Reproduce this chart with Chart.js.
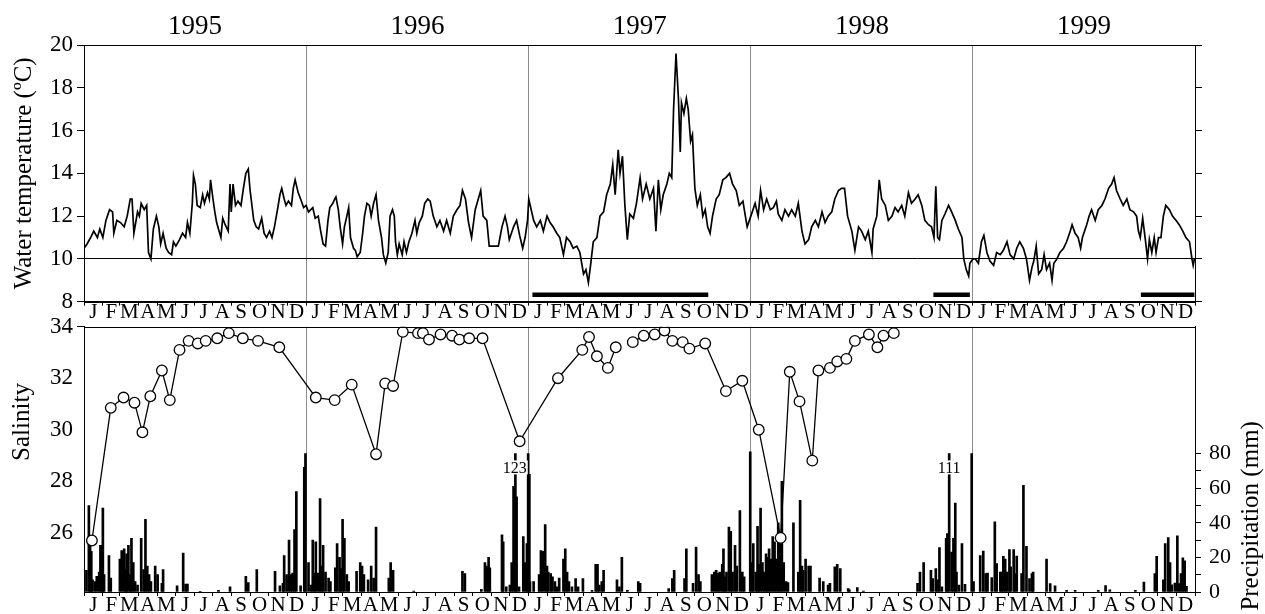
<!DOCTYPE html>
<html lang="en">
<head>
<meta charset="UTF-8">
<title>Water temperature, salinity and precipitation 1995-1999</title>
<script src="https://cdn.jsdelivr.net/npm/chart.js"></script>
<style>
  body { margin: 0; background: #fff; }
  #wrap { position: relative; width: 1265px; height: 614px; overflow: hidden; }
  .panel { position: absolute; left: 0; width: 1265px; }
  #top { top: 0; height: 326px; }
  #bottom { top: 316px; height: 298px; }
</style>
</head>
<body>
<div id="wrap">
  <div class="panel" id="top"><canvas id="tempChart"></canvas></div>
  <div class="panel" id="bottom"><canvas id="salChart"></canvas></div>
</div>
<script>
// ---- data (x = days since 1 Jan 1995) ----
const years = [1995, 1996, 1997, 1998, 1999];
const monthLetters = ['J', 'F', 'M', 'A', 'M', 'J', 'J', 'A', 'S', 'O', 'N', 'D'];
const tempTicks = [8, 10, 12, 14, 16, 18, 20];
const salTicks = [26, 28, 30, 32, 34];
const precipTicks = [0, 10, 20, 30, 40, 50, 60, 70, 80];

// water temperature [day, degC]
const tempReadings = [
  [0,10.5],[5,10.7],[11,11.0],[16,11.3],[22,11.0],[26,11.4],[31,11.0],[36,11.8],[42,12.3],[47,12.2],[49,11.2],[54,11.8],[60,11.7],[66,11.5],[71,12.0],[76,12.8],[79,12.8],[82,11.2],[88,12.2],[91,12.0],[94,12.6],[99,12.3],[103,12.5],[106,10.3],[110,10.0],[114,11.4],[119,12.0],[123,11.5],[126,10.7],[130,11.2],[135,10.5],[139,10.3],[144,10.2],[147,10.8],[151,10.6],[157,10.9],[162,11.2],[167,11.0],[170,11.7],[174,11.2],[178,12.6],[180,13.9],[183,13.5],[186,12.5],[191,12.4],[195,13.0],[198,12.6],[203,13.1],[206,12.8],[208,13.7],[212,12.8],[215,12.2],[218,11.7],[221,11.4],[225,11.0],[228,11.9],[232,11.6],[237,11.3],[240,13.5],[242,12.2],[245,13.5],[249,12.5],[253,12.7],[258,12.5],[262,13.3],[266,14.0],[270,14.2],[273,13.2],[276,12.5],[279,11.8],[283,11.5],[287,11.4],[292,11.9],[296,11.2],[300,11.0],[305,11.3],[309,11.0],[313,11.5],[318,12.3],[322,13.0],[325,13.3],[329,12.8],[332,12.5],[336,12.7],[341,12.5],[344,13.3],[347,13.7],[352,13.1],[356,12.8],[361,12.4],
  [365,12.5],[369,12.2],[376,12.4],[380,11.9],[385,12.0],[389,11.3],[393,10.7],[397,10.6],[401,11.8],[404,12.4],[409,12.6],[412,12.8],[414,12.9],[418,12.3],[421,11.5],[425,10.7],[428,11.5],[432,12.0],[435,12.4],[438,11.0],[443,10.5],[446,10.4],[449,10.1],[454,10.3],[458,11.2],[461,12.0],[465,12.6],[469,12.5],[472,12.0],[476,12.6],[480,13.0],[484,11.8],[489,11.0],[492,10.2],[496,9.8],[500,10.3],[503,12.0],[507,12.3],[510,12.0],[512,10.8],[515,10.2],[518,10.7],[523,10.2],[526,10.8],[530,10.3],[534,10.8],[539,11.2],[544,11.8],[547,11.2],[551,11.7],[556,12.0],[560,12.6],[565,12.8],[569,12.7],[574,12.0],[580,11.5],[585,11.8],[591,11.3],[596,11.8],[602,11.2],[607,12.0],[613,12.3],[618,12.5],[622,13.2],[627,12.8],[632,11.7],[637,11.0],[643,12.3],[648,12.8],[652,13.2],[656,12.0],[662,11.8],[666,10.6],[670,10.6],[676,10.6],[681,10.6],[687,11.5],[692,12.0],[696,11.5],[699,10.9],[706,11.5],[711,11.8],[716,11.1],[721,10.5],[725,11.0],[729,11.8],
  [731,12.8],[739,11.8],[744,11.5],[750,11.8],[755,11.3],[761,12.0],[766,11.7],[771,11.5],[777,11.2],[782,11.0],[788,10.2],[793,11.0],[799,10.8],[804,10.5],[810,10.6],[815,10.3],[821,9.3],[825,9.5],[829,8.9],[833,9.8],[837,10.8],[843,11.0],[848,12.0],[854,12.2],[859,13.0],[865,13.5],[869,14.4],[873,13.0],[878,15.1],[881,14.0],[885,14.8],[889,12.5],[893,10.9],[897,12.1],[903,11.9],[908,12.6],[914,13.8],[918,12.8],[924,13.5],[930,12.8],[936,13.3],[940,11.3],[944,13.7],[948,12.3],[952,13.0],[958,13.5],[962,14.0],[966,13.8],[969,17.0],[973,19.6],[977,17.5],[980,15.0],[982,17.3],[986,16.8],[990,17.5],[993,17.0],[997,15.5],[1000,15.8],[1004,13.3],[1008,12.5],[1013,13.0],[1017,12.0],[1021,12.3],[1025,11.5],[1029,11.2],[1033,12.0],[1039,12.8],[1044,13.0],[1050,13.7],[1055,13.8],[1061,14.0],[1066,13.5],[1072,13.2],[1077,12.5],[1083,12.7],[1087,12.0],[1090,11.5],
  [1096,12.0],[1103,12.6],[1108,12.0],[1112,13.2],[1117,12.3],[1122,12.8],[1128,12.3],[1133,12.4],[1138,12.7],[1141,12.1],[1147,11.8],[1152,12.3],[1158,12.0],[1163,12.3],[1169,12.0],[1174,12.6],[1180,11.3],[1185,10.7],[1191,10.9],[1196,11.5],[1202,11.8],[1207,11.5],[1213,12.2],[1218,11.7],[1223,12.0],[1229,12.2],[1234,12.8],[1240,13.2],[1245,13.3],[1250,13.3],[1255,12.0],[1262,11.3],[1267,10.4],[1273,11.5],[1278,11.3],[1284,10.9],[1289,11.3],[1295,10.3],[1297,11.4],[1303,12.0],[1307,13.7],[1311,12.8],[1317,12.5],[1322,11.8],[1328,12.0],[1333,12.4],[1338,12.2],[1344,12.5],[1349,12.0],[1355,13.1],[1360,12.6],[1366,12.8],[1371,13.0],[1377,12.5],[1382,11.8],[1388,11.6],[1393,11.5],[1397,11.0],[1400,13.4],[1403,11.0],[1406,10.9],[1410,11.8],[1415,12.1],[1421,12.5],[1426,12.2],[1432,11.8],[1437,11.4],[1443,11.0],[1446,10.0],[1450,9.5],[1454,9.2],[1456,9.8],
  [1461,10.0],[1465,10.0],[1470,9.8],[1475,10.8],[1479,11.1],[1484,10.3],[1489,9.9],[1495,9.7],[1500,10.3],[1506,10.2],[1511,10.4],[1517,10.8],[1522,10.2],[1528,10.0],[1533,10.5],[1538,10.8],[1544,10.5],[1549,10.0],[1554,9.0],[1558,9.6],[1561,9.9],[1565,10.6],[1569,9.3],[1574,9.5],[1578,10.2],[1582,9.5],[1587,9.8],[1591,9.0],[1594,9.8],[1599,10.0],[1604,10.3],[1610,10.5],[1615,10.8],[1621,11.3],[1624,11.6],[1629,11.2],[1634,11.0],[1638,10.5],[1641,11.0],[1648,11.6],[1652,12.0],[1656,12.3],[1662,11.8],[1667,12.3],[1673,12.5],[1678,12.8],[1684,13.3],[1689,13.5],[1693,13.8],[1697,13.2],[1703,12.8],[1708,12.5],[1714,12.8],[1719,12.3],[1725,12.2],[1730,12.0],[1733,11.3],[1736,11.0],[1740,11.9],[1744,11.0],[1748,10.0],[1751,10.9],[1755,10.3],[1759,11.0],[1762,10.3],[1766,11.0],[1770,11.0],[1774,12.0],[1778,12.5],[1784,12.3],[1789,12.0],[1795,11.8],[1800,11.6],[1806,11.3],[1811,11.0],[1817,10.8],[1821,10.0],[1823,9.7],[1825,10.0]
];

// periods marked by the thick bar under the temperature curve [startDay, endDay]
const markedPeriods = [[737, 1026], [1396, 1456], [1737, 1825]];

// salinity [day, value]; null = break in the series
const salinityReadings = [
  [13,25.7],[44,30.85],[65,31.25],[83,31.05],[96,29.9],[109,31.3],[128,32.3],[141,31.15],[157,33.1],[172,33.45],[187,33.35],[200,33.45],[219,33.55],[238,33.75],[261,33.55],[286,33.45],[321,33.2],
  [381,31.25],[412,31.15],[440,31.75],[480,29.05],[495,31.8],[508,31.7],[524,33.8],[549,33.75],[557,33.75],[567,33.5],[586,33.7],[605,33.65],[617,33.5],[633,33.55],[655,33.55],[716,29.55],
  [779,32.0],[819,33.1],[830,33.6],[843,32.85],[861,32.4],[874,33.2],[888,null],[902,33.4],[920,33.65],[938,33.7],[954,33.85],[967,33.45],[984,33.4],[995,33.15],[1021,33.35],[1055,31.5],[1082,31.9],
  [1109,30.0],[1145,25.8],[1160,32.25],[1176,31.1],[1197,28.8],[1207,32.3],[1226,32.4],[1238,32.65],[1253,32.75],[1267,33.45],[1290,33.7],[1304,33.2],[1314,33.65],[1331,33.75]
];

// daily precipitation [day, mm]
const precipReadings = [
  [4,12.5],[8,50],[10,31],[12,23.5],[14,7],[18,6],[21,9],[25,11.5],[27,27],[30,27],[31,48.5],[33,10],[41,21],[44,8],[59,19],[62,24],[66,25],[68,13],[70,22],[73,27],[76,10],[78,31],[81,17],[84,6],[88,4],[94,31],[98,13],[101,42],[104,15],[107,10],[110,6],[117,15],[121,10],[128,5],[130,13],[153,3.5],[163,22.5],[167,4.6],[170,4.6],[191,0.4],[221,1],[240,3],[266,9],[270,5.4],[284,13],[314,12],[322,3.5],[327,5],[329,21],[333,10],[337,30],[340,10],[343,11],[346,36],[349,58],[356,3.5],[362,72],[364,80],
  [369,17],[373,4],[376,30],[379,11],[381,29],[385,11],[388,54],[391,15],[393,27],[397,11.5],[402,8],[405,6],[413,14],[416,28],[420,20],[422,13.5],[425,42],[428,31],[432,10],[435,6],[448,12],[454,17],[457,15],[460,10],[467,7],[472,15],[476,8],[480,37.5],[501,8],[504,17],[508,12.5],[542,0.5],[622,12],[626,10.6],[653,1.5],[659,17],[662,15],[665,20],[667,14],[687,33],[689,29],[694,3],[700,4],[703,17],[706,61],[709,80],[711,55],[715,3],[722,32],[725,17],[728,28],[730,80],
  [732,68],[733,6],[739,6],[748,10],[751,24],[754,23.5],[758,39],[761,15],[763,11.5],[767,10.6],[770,8.7],[774,6],[777,3],[781,8],[788,19],[791,25],[794,11.5],[797,6],[802,3],[808,7.7],[812,3],[820,7.7],[835,1],[841,16],[844,16],[847,4],[851,6],[854,12.5],[876,7],[880,3],[884,20],[893,1],[911,6],[914,5],[961,2],[967,7.7],[970,12.5],[987,7.7],[990,25],[1001,5],[1006,26],[1010,10],[1013,6],[1032,10],[1036,11.5],[1039,12.5],[1042,11],[1045,11.5],[1049,16],[1051,25],[1054,8.7],[1056,11.5],[1060,37.5],[1063,35],[1066,11.5],[1070,27],[1073,15],[1078,47],[1082,11.5],[1085,8.7],[1095,81],
  [1098,17],[1100,28],[1104,11.5],[1107,38],[1109,16],[1112,48.5],[1115,17],[1118,11.5],[1121,22],[1123,20],[1126,25],[1129,19],[1132,32],[1135,29],[1138,19],[1141,40],[1144,29],[1147,64],[1150,17],[1154,6],[1157,5.4],[1166,40],[1174,11.5],[1177,53],[1180,15],[1182,12.5],[1186,19],[1191,15],[1194,15],[1209,8],[1215,6],[1223,4],[1226,5],[1234,14.5],[1238,16],[1243,13.5],[1256,2],[1258,1.3],[1271,2.5],[1281,0.5],[1370,5],[1374,11.5],[1380,17],[1392,12.5],[1395,7.7],[1400,13.5],[1403,7],[1406,25.6],[1410,3],[1417,31],[1419,33.7],[1422,80],[1426,23],[1429,31],[1432,51.4],[1434,11.5],[1438,4],[1443,28],[1448,4.4],[1459,80],[1462,6],
  [1473,21],[1478,23.7],[1482,10.6],[1485,11],[1492,8.3],[1497,40.5],[1500,16.4],[1506,11.5],[1508,11.5],[1511,20.6],[1514,19],[1517,11.5],[1521,24.5],[1523,14.5],[1528,24.5],[1530,10.6],[1533,20.8],[1541,10.6],[1544,61.7],[1549,26.4],[1554,7.7],[1558,10.6],[1560,11.5],[1582,19],[1588,4.8],[1596,3.5],[1615,1],[1629,1],[1667,1],[1679,3.7],[1686,1.3],[1728,1],[1742,5.8],[1760,10.6],[1763,20.6],[1774,7],[1777,28],[1782,31.4],[1785,17],[1788,4.2],[1793,5.2],[1797,32.4],[1800,4.8],[1803,10.6],[1806,19.8],[1809,18],[1812,3.3]
];

// notes printed over the tallest (clipped) rain bars
const precipNotes = [[708, '123'], [1422, '111']];

// ---- calendar helpers ----
const DAY0 = Date.UTC(1995, 0, 1);
const dayOf = (y, m, d) => (Date.UTC(y, m, d) - DAY0) / 86400000;
const lastDay = dayOf(years[years.length - 1] + 1, 0, 1);

const monthEdges = [];
const monthLabel = new Map();
years.forEach(y => {
  for (let m = 0; m < 12; m++) {
    const a = dayOf(y, m, 1), b = dayOf(y, m + 1, 1);
    monthEdges.push(a);
    monthLabel.set((a + b) / 2, monthLetters[m]);
  }
});
monthEdges.push(lastDay);
const monthTickValues = monthEdges.concat([...monthLabel.keys()]).sort((a, b) => a - b);
const edgeSet = new Set(monthEdges);
const yearLineSet = new Set(years.slice(1).map(y => dayOf(y, 0, 1)));
const yearMid = new Map(years.map(y => [(dayOf(y, 0, 1) + dayOf(y + 1, 0, 1)) / 2, String(y)]));

// ---- styling ----
const SERIF = '"Liberation Serif", "DejaVu Serif", "Times New Roman", serif';
Chart.defaults.font.family = SERIF;
Chart.defaults.color = '#000';
const CLEAR = 'rgba(0,0,0,0)';

// keep the plot area exactly where the axes put it (no room kept for label overhang)
const noOverhang = s => { s.paddingTop = 0; s.paddingBottom = 0; s.paddingLeft = 0; s.paddingRight = 0; };

function monthAxis(height, pad) {
  return {
    type: 'linear', position: 'bottom', min: 0, max: lastDay, offset: false,
    afterBuildTicks: s => { s.ticks = monthTickValues.map(v => ({ value: v })); },
    afterFit: s => { s.height = height; noOverhang(s); },
    ticks: {
      autoSkip: false, maxRotation: 0, minRotation: 0, padding: pad,
      font: { size: 21, lineHeight: 1 },
      callback: v => monthLabel.get(v) || ''
    },
    grid: {
      offset: false, drawOnChartArea: true, tickLength: 4,
      color: c => (c.tick && yearLineSet.has(c.tick.value)) ? '#8c8c8c' : CLEAR,
      tickColor: c => (c.tick && edgeSet.has(c.tick.value)) ? '#000' : CLEAR
    },
    border: { color: '#000', width: 1 }
  };
}

// box round the plot area
const framePlugin = {
  id: 'frame',
  afterDraw(chart) {
    const { ctx, chartArea: a } = chart;
    ctx.save();
    ctx.strokeStyle = '#000';
    ctx.lineWidth = 1;
    ctx.strokeRect(Math.round(a.left) + 0.5, Math.round(a.top) + 0.5,
      Math.round(a.right - a.left), Math.round(a.bottom - a.top));
    ctx.restore();
  }
};

// vertical axis titles placed against a scale value
const sideTitles = {
  id: 'sideTitles',
  afterDraw(chart, args, opts) {
    const { ctx } = chart;
    opts.items.forEach(t => {
      const y = chart.scales[t.scale].getPixelForValue(t.at);
      ctx.save();
      ctx.translate(t.x, y);
      ctx.rotate(-Math.PI / 2);
      ctx.font = '25px ' + SERIF;
      ctx.fillStyle = '#000';
      ctx.textAlign = 'center';
      ctx.textBaseline = 'middle';
      ctx.fillText(t.text, 0, 0);
      ctx.restore();
    });
  }
};

const notesPlugin = {
  id: 'notes',
  afterDatasetsDraw(chart) {
    const { ctx } = chart;
    const x = chart.scales.x, yP = chart.scales.yP;
    ctx.save();
    ctx.font = '16px ' + SERIF;
    ctx.textAlign = 'center';
    ctx.textBaseline = 'middle';
    precipNotes.forEach(([day, txt]) => {
      const px = x.getPixelForValue(day), py = yP.getPixelForValue(72);
      const w = ctx.measureText(txt).width + 2;
      ctx.fillStyle = '#fff';
      ctx.fillRect(px - w / 2, py - 7, w, 14);
      ctx.fillStyle = '#000';
      ctx.fillText(txt, px, py + 1);
    });
    ctx.restore();
  }
};

// ---- temperature panel ----
const periodPoints = [];
markedPeriods.forEach(([a, b]) => {
  periodPoints.push({ x: a, y: 8.33 }, { x: b, y: 8.33 }, { x: b, y: null });
});

new Chart(document.getElementById('tempChart'), {
  type: 'line',
  data: {
    datasets: [
      {
        data: tempReadings.map(([d, v]) => ({ x: d, y: v })),
        borderColor: '#000', borderWidth: 1.7, pointRadius: 0, tension: 0
      },
      {
        data: periodPoints,
        borderColor: '#000', borderWidth: 4.5, pointRadius: 0, spanGaps: false,
        borderCapStyle: 'butt'
      }
    ]
  },
  options: {
    responsive: true, maintainAspectRatio: false, animation: false,
    layout: { padding: 0 },
    plugins: {
      legend: { display: false }, tooltip: { enabled: false },
      sideTitles: { items: [{ scale: 'y', at: 14, x: 24, text: 'Water temperature (ºC)' }] }
    },
    scales: {
      x: monthAxis(24.3, -3.5),
      xYear: {
        type: 'linear', position: 'top', min: 0, max: lastDay,
        afterBuildTicks: s => { s.ticks = [...yearMid.keys()].map(v => ({ value: v })); },
        afterFit: s => { s.height = 45; noOverhang(s); },
        ticks: { autoSkip: false, maxRotation: 0, padding: 2, font: { size: 27, lineHeight: 1.2 },
          callback: v => yearMid.get(v) || '' },
        grid: { display: false, drawTicks: false },
        border: { display: false }
      },
      y: {
        position: 'left', min: 8, max: 20,
        afterBuildTicks: s => { s.ticks = tempTicks.map(v => ({ value: v })); },
        afterFit: s => { s.width = 84; noOverhang(s); },
        ticks: { padding: 4, font: { size: 23 } },
        grid: {
          tickLength: 7, tickColor: '#000',
          color: c => (c.tick && c.tick.value === 10) ? '#000' : CLEAR
        },
        border: { color: '#000' }
      },
      yR: {
        position: 'right', min: 8, max: 20,
        afterBuildTicks: s => { s.ticks = tempTicks.map(v => ({ value: v })); },
        afterFit: s => { s.width = 70; noOverhang(s); },
        ticks: { callback: () => '' },
        grid: { drawOnChartArea: false, tickLength: 7, tickColor: '#000' },
        border: { color: '#000' }
      }
    }
  },
  plugins: [framePlugin, sideTitles]
});

// ---- salinity / precipitation panel ----
new Chart(document.getElementById('salChart'), {
  type: 'line',
  data: {
    datasets: [
      {
        type: 'line', yAxisID: 'yS', order: 0,
        data: salinityReadings.map(([d, v]) => ({ x: d, y: v })),
        borderColor: '#000', borderWidth: 1.3, tension: 0, spanGaps: false,
        pointRadius: 5.3, pointBorderWidth: 1.3,
        pointBackgroundColor: '#fff', pointBorderColor: '#000'
      },
      {
        type: 'bar', yAxisID: 'yP', order: 1,
        data: precipReadings.map(([d, v]) => ({ x: d, y: v })),
        backgroundColor: '#000', barThickness: 2, borderWidth: 0
      }
    ]
  },
  options: {
    responsive: true, maintainAspectRatio: false, animation: false,
    layout: { padding: { top: 10.7, left: 0, right: 0, bottom: 0 } },
    plugins: {
      legend: { display: false }, tooltip: { enabled: false },
      sideTitles: { items: [
        { scale: 'yS', at: 30.3, x: 22, text: 'Salinity' },
        { scale: 'yP', at: 44, x: 1251, text: 'Precipitation (mm)' }
      ] }
    },
    scales: {
      x: monthAxis(22, -1.5),
      yS: {
        position: 'left', min: 23.7, max: 34,
        afterBuildTicks: s => { s.ticks = salTicks.map(v => ({ value: v })); },
        afterFit: s => { s.width = 84; noOverhang(s); },
        ticks: { padding: 4, font: { size: 23 } },
        grid: {
          drawOnChartArea: false, tickLength: 7,
          tickColor: c => (c.tick && c.tick.value === 34) ? '#000' : CLEAR
        },
        border: { color: '#000' }
      },
      yP: {
        position: 'right', min: 0, max: 153.3,
        afterBuildTicks: s => { s.ticks = precipTicks.map(v => ({ value: v })); },
        afterFit: s => { s.width = 70; noOverhang(s); },
        ticks: { padding: 8, font: { size: 22 }, callback: v => (v % 20 === 0 ? v : '') },
        grid: { drawOnChartArea: false, tickLength: 6, tickColor: '#000' },
        border: { color: '#000' }
      }
    }
  },
  plugins: [framePlugin, sideTitles, notesPlugin]
});
</script>
</body>
</html>
